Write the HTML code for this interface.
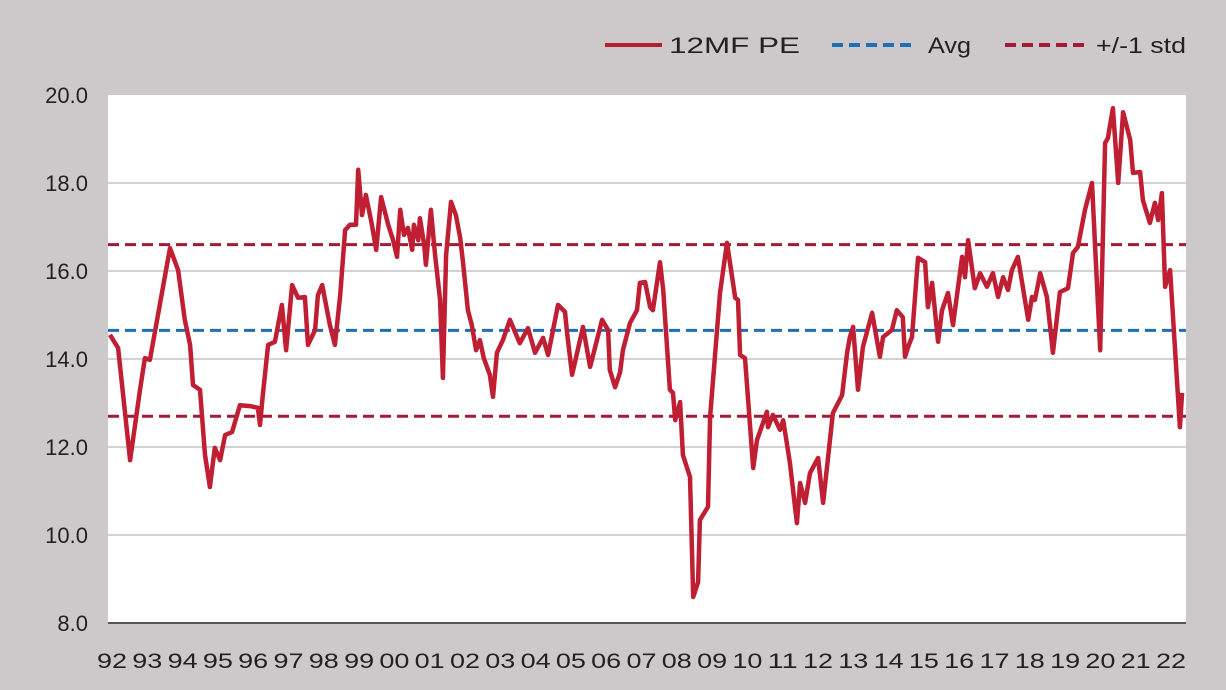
<!DOCTYPE html>
<html><head><meta charset="utf-8"><style>
html,body{margin:0;padding:0;background:#cdc9ca;}
svg{display:block;font-family:"Liberation Sans",sans-serif;}
</style></head><body>
<svg id="chart" width="1226" height="690" viewBox="0 0 1226 690" xmlns="http://www.w3.org/2000/svg">
<rect x="0" y="0" width="1226" height="690" fill="#cdc9ca"/>
<rect x="108" y="95" width="1078" height="528" fill="#ffffff"/>
<g id="grid"></g>
<g id="yticks"></g>
<g id="xticks"></g>
<g id="refs"></g>
<g id="series"></g>
<g>
  <g>
    <line x1="605" y1="45" x2="662" y2="45" stroke="#b5202e" stroke-width="4"/>
    <text x="669" y="53" font-size="22" fill="#222" textLength="131" lengthAdjust="spacingAndGlyphs">12MF PE</text>
  </g>
  <g>
    <line x1="832" y1="45" x2="916" y2="45" stroke="#1f6fb5" stroke-width="4" stroke-dasharray="11,6"/>
    <text x="928" y="53" font-size="22" fill="#222" textLength="43" lengthAdjust="spacingAndGlyphs">Avg</text>
  </g>
  <g>
    <line x1="1005" y1="45" x2="1087" y2="45" stroke="#a31b33" stroke-width="4" stroke-dasharray="11,6"/>
    <text x="1096" y="53" font-size="22" fill="#222" textLength="90" lengthAdjust="spacingAndGlyphs">+/-1 std</text>
  </g>
</g>
</svg>
<script>
const years = [1992.00,1992.23,1992.57,1992.85,1992.99,1993.13,1993.70,1993.93,1994.12,1994.27,1994.35,1994.55,1994.69,1994.83,1994.97,1995.12,1995.26,1995.46,1995.68,1995.97,1996.19,1996.25,1996.33,1996.48,1996.67,1996.87,1996.99,1997.16,1997.33,1997.52,1997.61,1997.81,1997.89,1998.01,1998.23,1998.37,1998.52,1998.66,1998.80,1998.97,1999.03,1999.14,1999.25,1999.42,1999.54,1999.68,1999.88,2000.02,2000.13,2000.22,2000.33,2000.44,2000.56,2000.61,2000.73,2000.78,2000.90,2000.95,2001.09,2001.21,2001.35,2001.43,2001.52,2001.66,2001.80,2001.92,2002.00,2002.14,2002.25,2002.37,2002.48,2002.59,2002.76,2002.85,2002.96,2003.13,2003.33,2003.61,2003.84,2004.04,2004.27,2004.41,2004.69,2004.89,2004.95,2005.09,2005.40,2005.60,2005.94,2006.11,2006.16,2006.31,2006.45,2006.53,2006.73,2006.93,2007.01,2007.16,2007.30,2007.38,2007.58,2007.67,2007.86,2007.95,2008.01,2008.15,2008.23,2008.43,2008.52,2008.66,2008.71,2008.94,2009.00,2009.28,2009.48,2009.71,2009.79,2009.85,2009.99,2010.22,2010.33,2010.61,2010.64,2010.78,2010.98,2011.07,2011.26,2011.46,2011.55,2011.69,2011.83,2012.06,2012.20,2012.48,2012.74,2012.88,2012.96,2013.05,2013.19,2013.33,2013.59,2013.81,2013.90,2014.15,2014.29,2014.46,2014.52,2014.61,2014.72,2014.89,2015.09,2015.17,2015.29,2015.46,2015.57,2015.74,2015.88,2016.14,2016.22,2016.31,2016.50,2016.65,2016.84,2017.01,2017.16,2017.30,2017.44,2017.55,2017.72,2018.01,2018.12,2018.20,2018.35,2018.54,2018.71,2018.91,2019.14,2019.28,2019.42,2019.62,2019.82,2020.05,2020.19,2020.27,2020.41,2020.56,2020.70,2020.90,2020.98,2021.18,2021.26,2021.46,2021.60,2021.69,2021.80,2021.89,2022.03,2022.31,2022.37];
const peValues = [14.55,14.25,11.70,13.30,14.02,13.98,16.52,16.02,14.89,14.32,13.41,13.30,11.82,11.09,11.98,11.70,12.27,12.34,12.95,12.93,12.89,12.50,13.18,14.32,14.39,15.23,14.20,15.68,15.39,15.41,14.32,14.66,15.45,15.68,14.77,14.32,15.45,16.93,17.05,17.05,18.30,17.27,17.73,17.05,16.48,17.68,17.05,16.70,16.32,17.39,16.82,16.98,16.48,17.05,16.70,17.20,16.59,16.14,17.39,16.36,15.34,13.57,16.36,17.57,17.27,16.75,16.20,15.11,14.77,14.20,14.43,14.02,13.64,13.14,14.14,14.43,14.89,14.36,14.70,14.14,14.48,14.09,15.23,15.07,14.59,13.64,14.73,13.82,14.89,14.66,13.75,13.36,13.70,14.20,14.82,15.11,15.73,15.75,15.18,15.11,16.20,15.57,13.30,13.23,12.61,13.02,11.82,11.32,8.59,8.93,10.34,10.64,12.68,15.50,16.64,15.39,15.34,14.09,14.02,11.52,12.16,12.80,12.45,12.73,12.39,12.61,11.64,10.27,11.18,10.73,11.41,11.75,10.73,12.77,13.18,14.14,14.50,14.73,13.30,14.27,15.05,14.05,14.50,14.66,15.11,14.95,14.05,14.27,14.50,16.30,16.20,15.18,15.73,14.39,15.11,15.50,14.77,16.32,15.86,16.70,15.61,15.95,15.64,15.95,15.41,15.86,15.57,16.02,16.32,14.89,15.41,15.34,15.95,15.41,14.14,15.52,15.61,16.41,16.55,17.39,18.00,14.20,18.91,19.02,19.70,18.00,19.61,18.98,18.23,18.25,17.61,17.09,17.55,17.16,17.77,15.64,16.02,12.45,13.23];
const avgValue = 14.65;
const stdUpper = 16.6;
const stdLower = 12.7;
const yTicks = [8,10,12,14,16,18,20];
const yTickLabels = ["8.0","10.0","12.0","14.0","16.0","18.0","20.0"];
const xLabels = ["92","93","94","95","96","97","98","99","00","01","02","03","04","05","06","07","08","09","10","11","12","13","14","15","16","17","18","19","20","21","22"];

const NS = "http://www.w3.org/2000/svg";
const L = 108, R = 1186, T = 95, B = 623;
const yMin = 8, yMax = 20;
function yScale(v){ return B - (v - yMin) / (yMax - yMin) * (B - T); }
function xScale(t){ return 110 + (t - 1992) * 35.3; }
function mk(tag, attrs, parent){ const e = document.createElementNS(NS, tag); for (const k in attrs) e.setAttribute(k, attrs[k]); parent.appendChild(e); return e; }

const grid = document.getElementById('grid');
const yt = document.getElementById('yticks');
yTicks.forEach((v, i) => {
  if (v > yMin && v < yMax) {
    const g = mk('line', {x1: L, x2: R, y1: yScale(v), y2: yScale(v), stroke: '#c4c4c4', 'stroke-width': 1.5}, grid);
    
    
  }
  const t = mk('text', {x: 88, y: yScale(v) + 8, 'text-anchor': 'end', 'font-size': 22, fill: '#222'}, yt);
  
  
  t.textContent = yTickLabels[i];
});
const axis = mk('line', {x1: L, x2: R, y1: B, y2: B, stroke: '#555', 'stroke-width': 2}, grid);



const xt = document.getElementById('xticks');
xLabels.forEach((lab, i) => {
  const t = mk('text', {x: xScale(1992 + i) + 2, y: 668, 'text-anchor': 'middle', 'font-size': 21, fill: '#222', textLength: 30, lengthAdjust: 'spacingAndGlyphs'}, xt);
  
  
  t.textContent = lab;
});

const refs = document.getElementById('refs');
const a = mk('line', {x1: L, x2: R, y1: yScale(avgValue), y2: yScale(avgValue), stroke: '#1f6fb5', 'stroke-width': 3, 'stroke-dasharray': '11,6'}, refs);


const su = mk('line', {x1: L, x2: R, y1: yScale(stdUpper), y2: yScale(stdUpper), stroke: '#a31b33', 'stroke-width': 3, 'stroke-dasharray': '11,6'}, refs);


const sl = mk('line', {x1: L, x2: R, y1: yScale(stdLower), y2: yScale(stdLower), stroke: '#a31b33', 'stroke-width': 3, 'stroke-dasharray': '11,6'}, refs);



const pts = years.map((t, i) => xScale(t).toFixed(1) + ',' + yScale(peValues[i]).toFixed(1)).join(' ');
const pl = mk('polyline', {points: pts, fill: 'none', stroke: '#c01f33', 'stroke-width': 4.5, 'stroke-linejoin': 'round'}, document.getElementById('series'));


</script>
</body></html>
